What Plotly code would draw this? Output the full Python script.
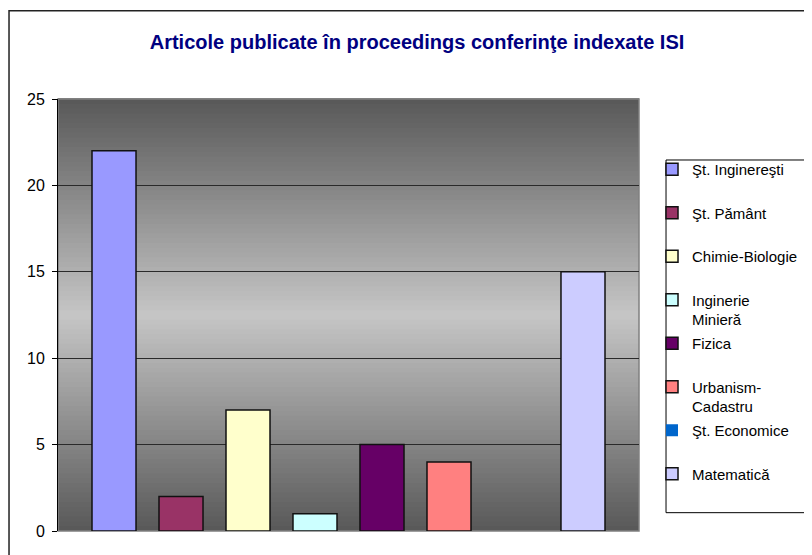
import plotly.graph_objects as go

categories = [
    "Şt. Inginereşti",
    "Şt. Pământ",
    "Chimie-Biologie",
    "Inginerie<br>Minieră",
    "Fizica",
    "Urbanism-<br>Cadastru",
    "Şt. Economice",
    "Matematică",
]
values = [22, 2, 7, 1, 5, 4, 0, 15]
colors = ["#9999FF", "#993366", "#FFFFCC", "#CCFFFF", "#660066", "#FF8080", "#0066CC", "#CCCCFF"]

FONT = "Liberation Sans, Arial, sans-serif"

fig = go.Figure()
for name, val, col in zip(categories, values, colors):
    label = name if "<br>" in name else name + "<br> "
    fig.add_trace(
        go.Bar(
            x=[""],
            y=[val],
            name=label,
            legendgroup=name,
            marker=dict(color=col, line=dict(color="#111111", width=1.5 if val else 0)),
        )
    )

# gradient plot background: dark at top/bottom, light in the middle
shapes = []
n = 90
dark, light = 88, 198
for i in range(n):
    t = (i + 0.5) / n
    v = int(round(dark + (light - dark) * (1 - abs(2 * t - 1))))
    shapes.append(
        dict(
            type="rect", xref="x domain", yref="y domain",
            x0=0, x1=1, y0=i / n, y1=(i + 1) / n + 0.002,
            fillcolor=f"rgb({v},{v},{v})", line=dict(width=0), layer="below",
        )
    )
# plot area border
shapes.append(
    dict(type="rect", xref="x domain", yref="y domain", x0=0, x1=1, y0=0, y1=1,
         line=dict(color="#808080", width=1.5), layer="below")
)
# outer chart border
shapes.append(
    dict(type="rect", xref="paper", yref="paper", x0=-0.0843, x1=1.5, y0=-0.2, y1=1.204,
         line=dict(color="#222222", width=1.5), layer="below")
)
# legend box
shapes.append(
    dict(type="rect", xref="paper", yref="paper", x0=1.0465, x1=1.4, y0=0.0424, y1=0.8588,
         line=dict(color="black", width=1), fillcolor="white", layer="below")
)

fig.update_layout(
    width=812,
    height=555,
    margin=dict(l=50, r=181, t=91, b=32, autoexpand=False),
    paper_bgcolor="white",
    plot_bgcolor="rgba(0,0,0,0)",
    barmode="group",
    bargap=0.0775,
    bargroupgap=0.343,
    title=dict(
        text="<b>Articole publicate în proceedings conferinţe indexate ISI</b>",
        x=0.5037, xref="container", xanchor="center",
        y=0.9387, yref="container", yanchor="middle",
        font=dict(family=FONT, size=20, color="#000080"),
    ),
    font=dict(family=FONT, size=15, color="black"),
    shapes=shapes,
    legend=dict(
        x=1.0224, xanchor="left", y=0.875, yanchor="top",
        borderwidth=0, bgcolor="rgba(0,0,0,0)",
        traceorder="grouped", tracegroupgap=1.5, valign="top",
        font=dict(family=FONT, size=15, color="black"),
    ),
    xaxis=dict(showticklabels=False, showgrid=False, zeroline=False, showline=False, ticks=""),
    yaxis=dict(
        range=[0, 25], dtick=5, showgrid=True, gridcolor="#2a2a2a", gridwidth=1,
        zeroline=False, showline=True, linecolor="black", linewidth=1,
        ticks="outside", ticklen=5, tickcolor="black", ticklabelstandoff=4,
        tickfont=dict(family=FONT, size=16, color="black"),
    ),
)

fig.write_html("out.html")
